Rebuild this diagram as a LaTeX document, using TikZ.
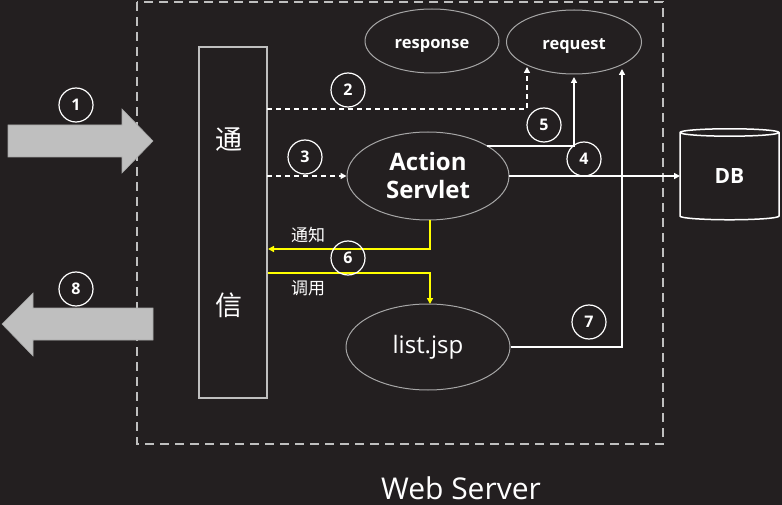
\documentclass[tikz,border=0pt]{standalone}
\usepackage{fontspec}
\setmainfont{Open Sans}
\newfontfamily\cjk{Noto Sans CJK SC}
\usetikzlibrary{arrows.meta,shapes.geometric}
\definecolor{bg}{HTML}{231F20}
\definecolor{lgray}{HTML}{BFBFBF}
\definecolor{egray}{HTML}{A6A6A6}
\definecolor{yel}{HTML}{FFFF00}
\begin{document}
\begin{tikzpicture}[x=1pt,y=-1pt,
  num/.style={circle,draw=white,line width=1.2pt,minimum size=34pt,inner sep=0pt,text=white,font=\fontsize{16}{16}\selectfont\bfseries},
  oval/.style={ellipse,draw=egray,line width=1pt,fill=bg,inner sep=0pt,text=white},
  wline/.style={draw=white,line width=1.5pt},
  yline/.style={draw=yel,line width=1.5pt},
  tip/.style={-{Triangle[length=6pt,width=6pt]}},
  bigarrow/.style={fill=lgray,draw=gray!70,line width=0.6pt}]
\fill[bg] (0,0) rectangle (782,505);
\useasboundingbox (0,0) rectangle (782,505);
% outer dashed box
\draw[lgray,line width=1.2pt,dash pattern=on 9pt off 6pt] (137,2) rectangle (663,444);
\node[text=white,font=\fontsize{30}{30}\selectfont] (ws) at (461,488) {Web Server};
% comm rect
\node[draw=lgray,line width=1.2pt,minimum width=68pt,minimum height=351pt,inner sep=0pt] (comm) at (233,222.5) {};
\node[text=white,font=\cjk\fontsize{27}{27}\selectfont] (t1) at (229,140) {通};
\node[text=white,font=\cjk\fontsize{27}{27}\selectfont] (t2) at (229,305) {信};
% big arrows
\draw[bigarrow] (8,125) -- (122,125) -- (122,109) -- (153,141) -- (122,173) -- (122,157) -- (8,157) -- cycle;
\draw[bigarrow] (153,308) -- (33,308) -- (33,293) -- (2,324) -- (33,356) -- (33,340) -- (153,340) -- cycle;
% ellipses
\node[oval,minimum width=134pt,minimum height=64pt,text height=16pt,text depth=0pt,font=\fontsize{16.5}{16.5}\selectfont\bfseries] (resp) at (432,41) {response};
\node[oval,minimum width=135pt,minimum height=64pt,text height=16pt,text depth=0pt,font=\fontsize{16.5}{16.5}\selectfont\bfseries] (req) at (574,42) {request};
\node[oval,minimum width=162pt,minimum height=88pt,align=center,font=\fontsize{24}{28}\selectfont\bfseries] (act) at (428,176) {Action\\Servlet};
\node[oval,minimum width=164pt,minimum height=86pt,font=\fontsize{24}{24}\selectfont] (jsp) at (428,347) {list.jsp};
% DB cylinder
\node[cylinder,shape border rotate=90,aspect=0.25,draw=white,line width=1.5pt,fill=bg,minimum width=99pt,minimum height=91pt,inner sep=0pt,text=white,font=\fontsize{21}{21}\selectfont\bfseries] (db) at (729.5,176.5) {DB};
% coordinates
\coordinate (c2a) at (267,109);
\coordinate (c2b) at (527,109);
\coordinate (c2c) at (527,67);
\coordinate (c3a) at (267,176);
\coordinate (c5a) at (487,146);
\coordinate (c5b) at (574,146);
\coordinate (c5c) at (574,77);
\coordinate (c7b) at (622,347);
\coordinate (c7c) at (622,69);
\coordinate (c4a) at (509,176);
\coordinate (c4b) at (680,176);
\coordinate (c6a) at (430,220);
\coordinate (c6b) at (430,249);
\coordinate (c6c) at (268,249);
\coordinate (c6d) at (268,273);
\coordinate (c6e) at (430,273);
\coordinate (c6f) at (430,304);
% connectors
\draw[white,line width=1.5pt,dash pattern=on 5pt off 4pt,tip] (c2a) -- (c2b) -- (c2c);
\draw[white,line width=1.5pt,dash pattern=on 5pt off 4pt,tip] (c3a) -- (act.west);
\draw[wline,tip] (c5a) -- (c5b) -- (c5c);
\draw[wline,tip] (c4a) -- (c4b);
\draw[wline,tip] (jsp.east) -- (c7b) -- (c7c);
\draw[yline,tip] (c6a) -- (c6b) -- (c6c);
\draw[yline,tip] (c6d) -- (c6e) -- (c6f);
% labels
\node[text=white,font=\cjk\fontsize{17}{17}\selectfont] (l1) at (308,235) {通知};
\node[text=white,font=\cjk\fontsize{17}{17}\selectfont] (l2) at (308,288) {调用};
% numbers
\node[num] (n1) at (76,105) {1};
\node[num] (n8) at (76,289) {8};
\node[num] (n2) at (348,90) {2};
\node[num] (n3) at (305,157) {3};
\node[num] (n5) at (544,125) {5};
\node[num] (n4) at (584,159) {4};
\node[num] (n6) at (348,258) {6};
\node[num] (n7) at (589,322) {7};
\end{tikzpicture}
\end{document}
